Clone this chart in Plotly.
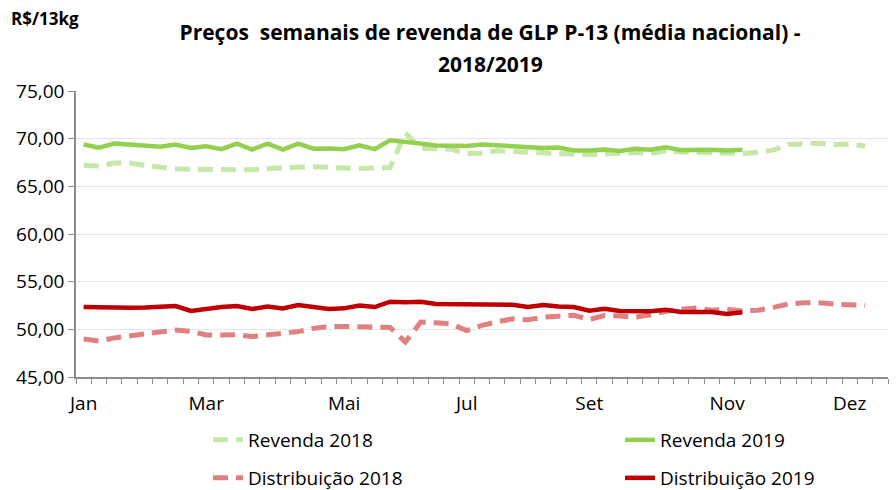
import plotly.graph_objects as go

weeks = list(range(53))
month_idx = [0, 8, 17, 25, 33, 42, 50]
month_lbl = ["Jan", "Mar", "Mai", "Jul", "Set", "Nov", "Dez"]

revenda_2018 = [67.20, 67.14, 67.45, 67.45, 67.20, 66.98, 66.84, 66.80, 66.77, 66.77,
                66.73, 66.73, 66.87, 66.98, 67.00, 67.05, 66.98, 66.90, 66.87, 66.94,
                66.98, 70.60, 69.00, 68.95, 68.90, 68.43, 68.50, 68.72, 68.65, 68.55,
                68.50, 68.45, 68.34, 68.30, 68.40, 68.52, 68.55, 68.45, 68.72, 68.60,
                68.58, 68.45, 68.50, 68.45, 68.58, 68.80, 69.38, 69.48, 69.52, 69.35,
                69.45, 69.24]
revenda_2019 = [69.38, 69.06, 69.48, 69.38, 69.28, 69.15, 69.38, 69.03, 69.20, 68.90,
                69.48, 68.85, 69.48, 68.85, 69.48, 68.95, 68.96, 68.90, 69.30, 68.90,
                69.82, 69.60, 69.48, 69.28, 69.24, 69.24, 69.38, 69.28, 69.15, 69.03,
                69.03, 69.07, 68.76, 68.76, 68.85, 68.72, 68.95, 68.85, 69.10, 68.80,
                68.83, 68.83, 68.76, 68.85]
distrib_2018 = [48.98, 48.78, 49.10, 49.30, 49.60, 49.72, 49.93, 49.80, 49.40, 49.40,
                49.45, 49.24, 49.40, 49.48, 49.76, 50.10, 50.30, 50.30, 50.30, 50.28,
                50.20, 48.67, 50.76, 50.69, 50.55, 49.86, 50.42, 50.79, 51.10, 51.00,
                51.27, 51.38, 51.48, 51.03, 51.45, 51.40, 51.27, 51.52, 51.90, 52.10,
                52.23, 52.00, 52.10, 51.93, 52.00, 52.30, 52.65, 52.79, 52.79, 52.65,
                52.55, 52.50]
distrib_2019 = [52.34, 52.30, 52.28, 52.27, 52.30, 52.34, 52.44, 51.93, 52.16, 52.34,
                52.44, 52.13, 52.40, 52.20, 52.55, 52.34, 52.13, 52.20, 52.50, 52.34,
                52.90, 52.83, 52.90, 52.65, 52.62, 52.62, 52.65, 52.62, 52.58, 52.34,
                52.55, 52.40, 52.34, 51.96, 52.16, 51.93, 51.93, 51.89, 52.06, 51.82,
                51.82, 51.82, 51.61, 51.79]

FONT = "Open Sans"
W, H = 896, 490
fig = go.Figure()

series = [
    ("Revenda 2018", revenda_2018, dict(color="#C6E7A8", width=5, dash="15px,8px"), "legend"),
    ("Revenda 2019", revenda_2019, dict(color="#92D050", width=4.5), "legend2"),
    ("Distribuição 2018", distrib_2018, dict(color="#E08080", width=5, dash="15px,8px"), "legend3"),
    ("Distribuição 2019", distrib_2019, dict(color="#C00000", width=4.5), "legend4"),
]
for name, vals, line, leg in series:
    fig.add_trace(go.Scatter(x=weeks[:len(vals)], y=vals, mode="lines", name=name,
                             legend=leg, line=line, showlegend=True))

axis_gray = "#8C8C8C"
legfont = dict(family=FONT, size=19, color="#000000")

def leg(px, py):
    return dict(orientation="h", xref="container", yref="container",
                x=px / W, xanchor="left", y=1 - py / H, yanchor="middle",
                font=legfont, bgcolor="rgba(0,0,0,0)", visible=True)

fig.update_layout(
    width=W, height=H,
    showlegend=True,
    margin=dict(l=76, r=8, t=91, b=113, autoexpand=False),
    paper_bgcolor="white", plot_bgcolor="white",
    separators=",.",
    font=dict(family=FONT, size=16, color="#000000"),
    title=dict(text="Preços\u00a0 semanais de revenda de GLP P-13 (média nacional) -",
               x=490 / W, xanchor="center", xref="container",
               y=1 - 33 / H, yanchor="middle", yref="container",
               font=dict(family=FONT, size=21, color="#000000", weight="bold")),
    xaxis=dict(range=[-0.5, 52.5], tickmode="array", tickvals=month_idx, ticktext=month_lbl,
               showgrid=False, zeroline=False, showline=True, linecolor=axis_gray, linewidth=1.5,
               ticks="", ticklabelstandoff=8,
               tickfont=dict(family=FONT, size=19, color="#000000"),
               minor=dict(tickmode="linear", tick0=-0.5, dtick=1, ticks="outside",
                          ticklen=5, tickcolor=axis_gray, tickwidth=1, showgrid=False)),
    yaxis=dict(range=[45, 75], tickmode="linear", tick0=45, dtick=5, tickformat=".2f",
               showgrid=True, gridcolor="#E6E6E6", gridwidth=1, zeroline=False,
               showline=True, linecolor=axis_gray, linewidth=1.5,
               ticks="outside", ticklen=6, tickcolor=axis_gray,
               tickfont=dict(family=FONT, size=19, color="#000000")),
    legend=leg(208, 440),
    legend2=leg(620, 440),
    legend3=leg(208, 478),
    legend4=leg(620, 478),
    annotations=[
        dict(text="2018/2019", x=490 / W, xref="paper", xanchor="center",
             y=1 - 64 / H, yref="paper", yanchor="middle", showarrow=False,
             font=dict(family=FONT, size=21, color="#000000", weight="bold")),
        dict(text="R$/13kg", x=9 / W, xref="paper", xanchor="left",
             y=1 - 18 / H, yref="paper", yanchor="middle", showarrow=False,
             font=dict(family=FONT, size=17, color="#000000", weight="bold")),
    ],
)

# convert pixel anchors of annotations into paper coordinates of the plot area
plot_w = W - 76 - 8
plot_h = H - 91 - 113
fig.layout.annotations[0].update(x=(490 - 76) / plot_w, y=(H - 113 - 64) / plot_h)
fig.layout.annotations[1].update(x=(9 - 76) / plot_w, y=(H - 113 - 18) / plot_h)

fig.write_html("out.html")
